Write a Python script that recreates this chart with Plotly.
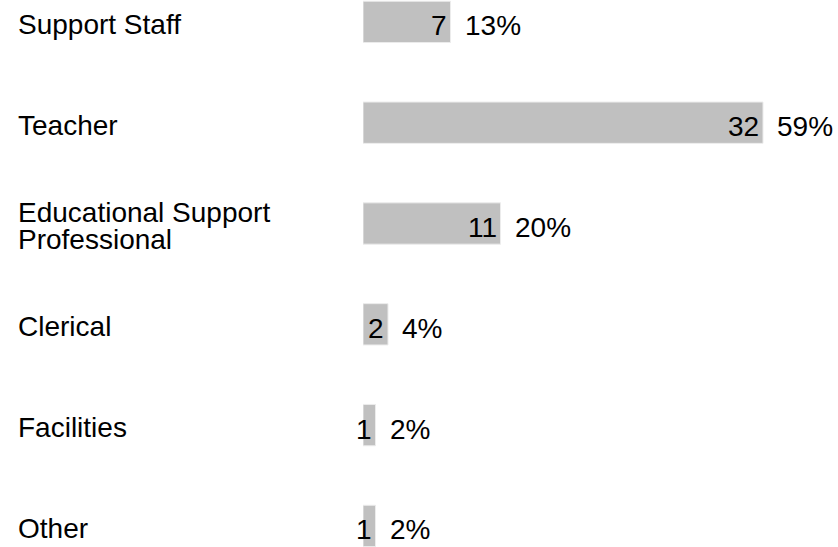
import plotly.graph_objects as go

categories = ["Support Staff", "Teacher", "Educational Support Professional", "Clerical", "Facilities", "Other"]
label_lines = [["Support Staff"], ["Teacher"], ["Educational Support", "Professional"], ["Clerical"], ["Facilities"], ["Other"]]
counts = [7, 32, 11, 2, 1, 1]
percents = ["13%", "59%", "20%", "4%", "2%", "2%"]

FONT = "Liberation Sans, Arial, sans-serif"
FS = 28
TXT = dict(family=FONT, size=FS, color="black")

fig = go.Figure()
fig.add_trace(go.Bar(
    x=counts, y=categories, orientation="h",
    marker=dict(color="#c0c0c0", line=dict(color="#ececec", width=1)),
    width=0.41,
    cliponaxis=False, hoverinfo="skip",
))

annotations = []
for cat, lines in zip(categories, label_lines):
    n = len(lines)
    for k, line in enumerate(lines):
        shift = (n - 1) / 2 * 26.7 - k * 26.7 - 2.5
        annotations.append(dict(
            x=-0.7305, xref="paper", y=cat, yref="y", text=line,
            xanchor="left", yanchor="middle", showarrow=False, yshift=shift,
            font=TXT,
        ))
for cat, c, p in zip(categories, counts, percents):
    annotations.append(dict(
        x=c, xref="x", y=cat, yref="y", text=str(c),
        xanchor="right", yanchor="middle", showarrow=False, xshift=-2, yshift=-4,
        font=TXT,
    ))
    annotations.append(dict(
        x=c, xref="x", y=cat, yref="y", text=p,
        xanchor="left", yanchor="middle", showarrow=False, xshift=12, yshift=-4,
        font=TXT,
    ))

fig.update_layout(
    width=838, height=547,
    margin=dict(l=363, r=0, t=0, b=0),
    paper_bgcolor="white", plot_bgcolor="white",
    showlegend=False,
    xaxis=dict(range=[0, 38], visible=False, fixedrange=True),
    yaxis=dict(categoryorder="array", categoryarray=categories,
               range=[5.209, -0.217], visible=False, fixedrange=True),
    annotations=annotations,
)

fig.write_html("out.html", config={"displayModeBar": False},
               post_script="document.body.style.margin='0px';document.body.style.overflow='hidden';")
